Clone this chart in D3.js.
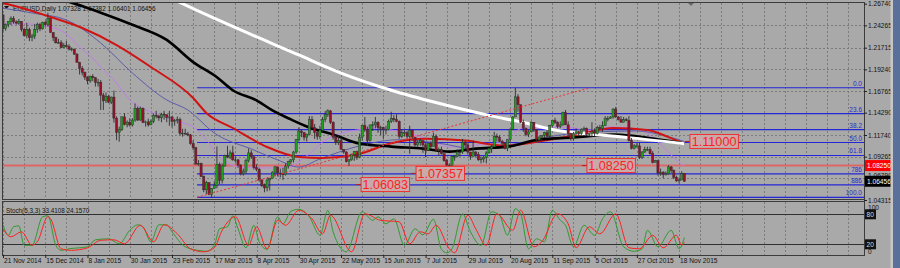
<!DOCTYPE html>
<html>
<head>
<meta charset="utf-8">
<script src="https://cdn.jsdelivr.net/npm/d3@7/dist/d3.min.js"></script>
<style>
  html, body { margin: 0; padding: 0; background: #a9a9a9; }
  svg { display: block; font-family: "Liberation Sans", Arial, sans-serif; }
</style>
</head>
<body>
<svg id="chart" width="900" height="268"></svg>
<script>
/*
	Data - EURUSD daily, 21 Nov 2014 .. 20 Nov 2015 (bar index 0..258)
	open of each bar = previous close
 */
var symbolTitle = "EURUSD,Daily 1.07328 1.07382 1.06401 1.06456";
var stochTitle = "Stoch(5,3,3) 33.4108 24.1570";
var firstOpen = 1.2546;

var closes = [
  1.2389,1.2437,1.2472,1.2504,1.2465,1.2452,
  1.2473,1.2382,1.2311,1.2378,1.2285,
  1.2306,1.2380,1.2440,1.2387,1.2461,
  1.2434,1.2506,1.2345,1.2285,1.2227,
  1.2228,1.2173,1.2195,1.2182,
  1.2155,1.2156,1.2098,1.2004,
  1.1934,1.1891,1.1836,1.1792,1.1843,
  1.1828,1.1775,1.1777,1.1630,1.1565,
  1.1613,1.1549,1.1607,1.1367,1.1203,
  1.1240,1.1381,1.1291,1.1320,1.1289,
  1.1345,1.1475,1.1345,1.1480,1.1316,
  1.1323,1.1290,1.1330,1.1400,1.1390,
  1.1370,1.1410,1.1405,1.1375,1.1380,
  1.1330,1.1340,1.1350,1.1195,1.1195,
  1.1185,1.1175,1.1075,1.1030,1.0841,
  1.0850,1.0699,1.0548,1.0630,1.0495,
  1.0565,1.0597,1.0840,1.0656,1.0820,
  1.0940,1.0921,1.0970,1.0890,1.0890,
  1.0830,1.0730,1.0762,1.0880,1.0970,
  1.0925,1.0800,1.0780,1.0660,1.0600,
  1.0570,1.0660,1.0680,1.0750,1.0810,
  1.0740,1.0730,1.0720,1.0820,1.0870,
  1.0890,1.0980,1.1120,1.1220,1.1200,
  1.1150,1.1180,1.1350,1.1260,1.1200,
  1.1160,1.1230,1.1350,1.1410,1.1450,
  1.1320,1.1150,1.1090,1.1110,1.1010,
  1.0980,1.0870,1.0890,1.0950,1.0985,
  1.0920,1.1150,1.1280,1.1240,1.1110,
  1.1290,1.1290,1.1320,1.1260,1.1260,
  1.1240,1.1240,1.1330,1.1360,1.1350,
  1.1330,1.1160,1.1200,1.1200,1.1160,
  1.1230,1.1150,1.1060,1.1090,1.1110,
  1.1060,1.1000,1.1080,1.1040,1.1160,
  1.1000,1.1010,1.0960,1.0880,1.0830,
  1.0830,1.0930,1.0930,1.0980,1.0980,
  1.1090,1.1060,1.0980,1.0930,1.0980,
  1.0950,1.0890,1.0900,1.0920,1.0970,
  1.1020,1.1040,1.1160,1.1150,1.1100,
  1.1080,1.1020,1.1120,1.1240,1.1380,
  1.1610,1.1520,1.1320,1.1250,1.1180,
  1.1210,1.1320,1.1230,1.1120,1.1150,
  1.1170,1.1200,1.1160,1.1280,1.1340,
  1.1320,1.1270,1.1290,1.1430,1.1290,
  1.1190,1.1130,1.1190,1.1210,1.1190,
  1.1240,1.1250,1.1180,1.1190,1.1210,
  1.1190,1.1260,1.1250,1.1280,1.1360,
  1.1360,1.1380,1.1470,1.1380,1.1350,
  1.1320,1.1350,1.1340,1.1110,1.1020,
  1.1050,1.1050,1.0920,1.0980,1.1010,
  1.1010,1.0960,1.0860,1.0880,1.0740,
  1.0750,1.0720,1.0730,1.0810,1.0770,
  1.0690,1.0650,1.0660,1.0733,1.06456
];

var highs = [
  1.2555,1.2447,1.2476,1.2530,1.2532,1.2486,
  1.2500,1.2475,1.2393,1.2456,1.2400,
  1.2330,1.2443,1.2457,1.2455,1.2469,
  1.2478,1.2570,1.2509,1.2345,1.2297,
  1.2273,1.2256,1.2223,1.2246,
  1.2210,1.2174,1.2160,1.2110,
  1.2010,1.1961,1.1899,1.1845,1.1852,
  1.1869,1.1835,1.1815,1.1803,1.1655,
  1.1660,1.1633,1.1613,1.1680,1.1386,
  1.1270,1.1387,1.1424,1.1340,1.1366,
  1.1366,1.1534,1.1499,1.1497,1.1488,
  1.1338,1.1360,1.1350,1.1420,1.1450,
  1.1405,1.1428,1.1450,1.1410,1.1450,
  1.1390,1.1360,1.1385,1.1373,1.1245,
  1.1245,1.1210,1.1186,1.1114,1.1037,
  1.0888,1.0858,1.0711,1.0650,1.0630,
  1.0570,1.0645,1.1043,1.0860,1.0850,
  1.0950,1.1050,1.1000,1.1050,1.0930,
  1.0900,1.0840,1.0790,1.0905,1.1020,
  1.1000,1.0930,1.0840,1.0800,1.0670,
  1.0620,1.0680,1.0685,1.0760,1.0820,
  1.0810,1.0790,1.0800,1.0850,1.0880,
  1.0900,1.0990,1.1130,1.1260,1.1240,
  1.1210,1.1190,1.1390,1.1390,1.1300,
  1.1210,1.1280,1.1380,1.1450,1.1467,
  1.1460,1.1330,1.1170,1.1170,1.1150,
  1.1010,1.0990,1.0900,1.0960,1.0990,
  1.0995,1.1190,1.1290,1.1380,1.1270,
  1.1290,1.1330,1.1380,1.1330,1.1280,
  1.1270,1.1280,1.1350,1.1440,1.1400,
  1.1410,1.1340,1.1240,1.1230,1.1220,
  1.1280,1.1230,1.1150,1.1110,1.1130,
  1.1110,1.1080,1.1080,1.1100,1.1200,
  1.1180,1.1030,1.1040,1.0960,1.0900,
  1.0850,1.0940,1.0940,1.1010,1.0990,
  1.1130,1.1110,1.1080,1.0980,1.1110,
  1.0990,1.0980,1.0930,1.0940,1.0990,
  1.1030,1.1060,1.1210,1.1190,1.1170,
  1.1120,1.1090,1.1120,1.1250,1.1390,
  1.1714,1.1640,1.1520,1.1350,1.1260,
  1.1230,1.1330,1.1320,1.1240,1.1160,
  1.1170,1.1210,1.1230,1.1290,1.1340,
  1.1370,1.1330,1.1330,1.1440,1.1460,
  1.1330,1.1200,1.1210,1.1250,1.1220,
  1.1250,1.1270,1.1260,1.1200,1.1320,
  1.1250,1.1280,1.1290,1.1330,1.1390,
  1.1390,1.1390,1.1480,1.1495,1.1390,
  1.1390,1.1380,1.1370,1.1390,1.1140,
  1.1070,1.1080,1.1090,1.0990,1.1040,
  1.1040,1.1040,1.0990,1.0890,1.0890,
  1.0790,1.0760,1.0760,1.0830,1.0820,
  1.0780,1.0710,1.0690,1.0760,1.07382
];

var lows = [
  1.2358,1.2366,1.2405,1.2430,1.2445,1.2435,
  1.2434,1.2357,1.2300,1.2280,1.2247,
  1.2245,1.2270,1.2341,1.2360,1.2378,
  1.2410,1.2414,1.2343,1.2247,1.2220,
  1.2220,1.2165,1.2169,1.2175,
  1.2141,1.2130,1.2089,1.2001,
  1.1865,1.1855,1.1803,1.1753,1.1770,
  1.1788,1.1728,1.1727,1.1460,1.1460,
  1.1540,1.1538,1.1528,1.1316,1.1114,
  1.1098,1.1220,1.1285,1.1262,1.1270,
  1.1270,1.1325,1.1335,1.1335,1.1310,
  1.1270,1.1270,1.1287,1.1310,1.1365,
  1.1336,1.1320,1.1350,1.1320,1.1280,
  1.1260,1.1280,1.1307,1.1170,1.1155,
  1.1175,1.1160,1.1063,1.1000,1.0838,
  1.0823,1.0698,1.0520,1.0500,1.0486,
  1.0460,1.0560,1.0565,1.0613,1.0620,
  1.0812,1.0910,1.0900,1.0880,1.0860,
  1.0800,1.0712,1.0710,1.0730,1.0860,
  1.0900,1.0780,1.0760,1.0640,1.0580,
  1.0520,1.0530,1.0540,1.0680,1.0700,
  1.0700,1.0690,1.0660,1.0710,1.0790,
  1.0840,1.0860,1.0960,1.1100,1.1150,
  1.1110,1.1100,1.1170,1.1240,1.1130,
  1.1120,1.1130,1.1210,1.1320,1.1380,
  1.1300,1.1120,1.1060,1.1060,1.1010,
  1.0960,1.0860,1.0820,1.0880,1.0880,
  1.0890,1.0910,1.1110,1.1210,1.1050,
  1.1100,1.1220,1.1250,1.1200,1.1170,
  1.1130,1.1180,1.1230,1.1310,1.1320,
  1.1320,1.1130,1.1140,1.1160,1.1130,
  1.0960,1.1130,1.1040,1.1040,1.1050,
  1.0970,1.0920,1.1000,1.1020,1.1050,
  1.0990,1.0940,1.0950,1.0870,1.0820,
  1.0808,1.0820,1.0880,1.0920,1.0930,
  1.0960,1.1010,1.0950,1.0890,1.0930,
  1.0920,1.0880,1.0850,1.0860,1.0850,
  1.0960,1.0970,1.1040,1.1100,1.1090,
  1.1040,1.1010,1.0990,1.1090,1.1230,
  1.1380,1.1440,1.1310,1.1210,1.1160,
  1.1150,1.1210,1.1210,1.1090,1.1090,
  1.1110,1.1140,1.1150,1.1150,1.1260,
  1.1300,1.1250,1.1250,1.1280,1.1290,
  1.1160,1.1110,1.1110,1.1180,1.1160,
  1.1170,1.1220,1.1160,1.1150,1.1150,
  1.1160,1.1180,1.1230,1.1210,1.1280,
  1.1330,1.1360,1.1360,1.1370,1.1340,
  1.1320,1.1320,1.1330,1.1100,1.1010,
  1.1010,1.1030,1.0900,1.0900,1.0970,
  1.0990,1.0950,1.0850,1.0860,1.0710,
  1.0710,1.0680,1.0710,1.0720,1.0740,
  1.0670,1.0640,1.0620,1.0660,1.06401
];

// moving averages: [bar, price]
var maWhite = [[60,1.2790],[68,1.2674],[112,1.2088],[128,1.1881],[147,1.1685],[165,1.1536],
  [184,1.1398],[197,1.1317],[210,1.1225],[220,1.1190],[237,1.1144],[258,1.1075]];
var maBlack = [[22,1.2720],[26,1.2686],[37,1.2571],[49,1.2433],[62,1.2260],[72,1.2007],[81,1.1834],
  [87,1.1685],[96,1.1570],[102,1.1455],[109,1.1352],[116,1.1260],[125,1.1179],[135,1.1076],
  [147,1.1041],[159,1.1018],[169,1.0984],[179,1.1018],[191,1.1041],[203,1.1122],[216,1.1145],
  [231,1.1179],[237,1.1168],[246,1.1133],[256,1.1087],[258,1.1075]];
var maRed = [[0,1.2680],[3,1.2659],[18,1.2522],[30,1.2396],[43,1.2202],[56,1.1951],[72,1.1597],
  [77,1.1426],[87,1.1254],[100,1.1037],[112,1.0923],[121,1.0911],[134,1.0950],[147,1.1080],
  [160,1.1130],[175,1.1110],[190,1.1050],[205,1.1110],[218,1.1180],[231,1.1254],[244,1.1231],
  [252,1.1150],[258,1.1075]];
var maBlue = [[0,1.2623],[11,1.2568],[24,1.2488],[37,1.2225],[49,1.1882],[62,1.1574],[70,1.1460],
  [80,1.1197],[95,1.1003],[104,1.0889],[112,1.0808],[120,1.0900],[135,1.1050],[150,1.1120],
  [165,1.1080],[180,1.1010],[195,1.1080],[210,1.1170],[225,1.1210],[240,1.1220],[250,1.1170],
  [258,1.1100]];
var maViolet = [[0,1.2440],[8,1.2445],[14,1.2430],[18,1.2408],[24,1.2330],[29,1.2179],[33,1.2080],
  [37,1.1951],[43,1.1768],[45,1.1688],[48,1.1574],[52,1.1494],[59,1.1403],[67,1.1323],[72,1.1266],
  [77,1.1117],[82,1.0923],[90,1.0808],[100,1.0797],[109,1.0808],[112,1.0866],[116,1.0960],
  [121,1.1094],[128,1.1190],[134,1.1231],[142,1.1254],[147,1.1231],[153,1.1197],[162,1.1117],
  [169,1.1037],[179,1.1060],[189,1.1094],[197,1.1254],[204,1.1254],[212,1.1266],[222,1.1231],
  [229,1.1266],[237,1.1254],[244,1.1197],[250,1.1037],[255,1.0888],[258,1.0820]];

// stochastic %K (green) and %D (red): [bar, value]
var stochK = [[0,59],[2,38],[4,55],[6,57],[8,18],[11,18],[15,75],[17,77],[20,18],[22,8],[25,11],
  [32,15],[35,29],[40,31],[44,21],[48,48],[51,59],[53,55],[56,25],[59,59],[62,59],[64,45],[69,15],
  [75,7],[77,6],[80,18],[82,51],[85,55],[87,77],[89,51],[92,13],[95,58],[97,25],[100,10],[104,75],
  [106,61],[109,86],[112,90],[116,75],[120,38],[123,88],[125,45],[130,5],[136,85],[140,68],[142,75],
  [145,61],[148,71],[152,18],[156,51],[159,39],[163,70],[166,10],[168,3],[170,11],[174,81],[177,45],
  [181,18],[185,85],[188,78],[191,38],[194,91],[196,81],[199,11],[202,31],[205,25],[208,88],[211,68],
  [213,58],[216,15],[220,58],[224,38],[227,71],[230,85],[235,15],[239,6],[242,11],[244,48],[248,15],
  [253,48],[256,11],[258,33.4]];
var stochD = [[0,51],[3,35],[7,45],[11,18],[13,25],[17,75],[18,71],[22,11],[26,8],[32,13],[37,28],
  [42,29],[46,21],[52,58],[57,25],[61,59],[66,41],[71,11],[76,5],[80,13],[83,48],[88,75],[93,18],
  [96,55],[100,11],[104,68],[107,58],[112,88],[117,71],[121,41],[124,78],[132,5],[137,81],[143,68],
  [150,65],[154,21],[158,45],[161,41],[164,58],[169,11],[171,3],[176,78],[179,51],[183,18],[187,81],
  [193,48],[196,88],[201,15],[204,25],[210,81],[214,61],[217,13],[222,55],[226,41],[232,81],[237,13],
  [241,11],[246,38],[250,13],[255,38],[257,18],[258,24.2]];

// axes
var priceTicks = [1.26740,1.24265,1.21715,1.19240,1.16765,1.14290,1.11740,1.09265,1.06790,1.04315];
var dateTickBars = [0,16,32,48,64,80,96,112,128,144,160,176,192,208,224,240,256];
var dateLabels = ["21 Nov 2014","15 Dec 2014","8 Jan 2015","30 Jan 2015","23 Feb 2015","17 Mar 2015",
  "8 Apr 2015","30 Apr 2015","22 May 2015","15 Jun 2015","7 Jul 2015","29 Jul 2015","20 Aug 2015",
  "11 Sep 2015","5 Oct 2015","27 Oct 2015","18 Nov 2015"];

// objects
var fibHigh = 1.1714, fibLow = 1.0462, fibStartBar = 73.5;
var fibLevels = [0, 23.6, 38.2, 50, 61.8, 78.6, 88.6, 100];
var fibNames = ["0.0","23.6","38.2","50.0","61.8","786","886","100.0"];
var trendBars = [73.5, 222.3], trendPrices = [1.0462, 1.1714];
var hLinePrice = 1.0825;
var labelPrices = [1.06083, 1.07357, 1.08250, 1.11000];
var labelBars = [133.7, 154.5, 219.2, 258.2];
var lastPrice = 1.06456;

/*
	Layout
 */
var svg = d3.select('#chart');
var main = {left: 3, right: 864, top: 3, bottom: 199};
var sub = {top: 202, bottom: 255};

var x = d3.scaleLinear().domain([0, 258]).range([3, 3 + 258 * 2.641]);
var y = d3.scaleLinear().domain([1.04315, 1.26740]).range([200.0, 3.7]);
var ys = d3.scaleLinear().domain([0, 100]).range([254.3, 204.3]);

var gridColor = '#7c7c7c', frameColor = '#3c3c3c';

svg.append('rect').attr('width', 900).attr('height', 268).attr('fill', '#a9a9a9');

var defs = svg.append('defs');
defs.append('clipPath').attr('id', 'clipMain').append('rect')
  .attr('x', main.left).attr('y', main.top).attr('width', main.right - main.left).attr('height', main.bottom - main.top);
defs.append('clipPath').attr('id', 'clipSub').append('rect')
  .attr('x', main.left).attr('y', sub.top).attr('width', main.right - main.left).attr('height', sub.bottom - sub.top);

// grid
var gridBars = d3.range(0, 330, 8).filter(function(b){ return x(b) < main.right; });
var grid = svg.append('g').attr('stroke', gridColor).attr('stroke-dasharray', '2,2').attr('stroke-width', 1);
grid.selectAll('.gv').data(gridBars).enter().append('line')
  .attr('x1', function(d){ return Math.round(x(d)) + 0.5; }).attr('x2', function(d){ return Math.round(x(d)) + 0.5; })
  .attr('y1', main.top).attr('y2', main.bottom);
grid.selectAll('.gs').data(gridBars).enter().append('line')
  .attr('x1', function(d){ return Math.round(x(d)) + 0.5; }).attr('x2', function(d){ return Math.round(x(d)) + 0.5; })
  .attr('y1', sub.top).attr('y2', sub.bottom);
grid.selectAll('.gh').data(priceTicks.slice(1, -1)).enter().append('line')
  .attr('x1', main.left).attr('x2', main.right)
  .attr('y1', function(d){ return Math.round(y(d)) + 0.5; }).attr('y2', function(d){ return Math.round(y(d)) + 0.5; });

// title
svg.append('path').attr('d', 'M4,6 L9,6 L6.5,9 Z').attr('fill', '#111');
svg.append('text').attr('x', 13).attr('y', 10.5).attr('font-size', 6.4).attr('fill', '#111').text(symbolTitle);

var gMain = svg.append('g').attr('clip-path', 'url(#clipMain)');

// fibonacci levels
var fibPrice = function(l){ return fibHigh - (fibHigh - fibLow) * l / 100; };
gMain.selectAll('.fib').data(fibLevels).enter().append('line')
  .attr('x1', x(fibStartBar)).attr('x2', main.right)
  .attr('y1', function(d){ return y(fibPrice(d)); }).attr('y2', function(d){ return y(fibPrice(d)); })
  .attr('stroke', '#2626d8').attr('stroke-width', 1.1);
gMain.selectAll('.fibt').data(fibLevels).enter().append('text')
  .attr('x', main.right - 2).attr('y', function(d){ return y(fibPrice(d)) - 2; })
  .attr('text-anchor', 'end').attr('font-size', 6.5).attr('fill', '#2a2ad0')
  .text(function(d, i){ return fibNames[i]; });

// horizontal line
gMain.append('line').attr('x1', main.left).attr('x2', main.right)
  .attr('y1', y(hLinePrice)).attr('y2', y(hLinePrice))
  .attr('stroke', '#e06666').attr('stroke-width', 2);

// moving averages
var maLine = d3.line().x(function(d){ return x(d[0]); }).y(function(d){ return y(d[1]); }).curve(d3.curveMonotoneX);
[[maViolet, '#c27ee8', 1], [maBlue, '#5c5ca8', 1], [maRed, '#d01414', 2], [maBlack, '#000000', 2.6], [maWhite, '#ffffff', 3]]
  .forEach(function(m){
    gMain.append('path').attr('d', maLine(m[0])).attr('fill', 'none')
      .attr('stroke', m[1]).attr('stroke-width', m[2]).attr('stroke-linejoin', 'round');
  });

// candles
var bars = closes.map(function(c, i){
  return {i: i, o: i === 0 ? firstOpen : closes[i - 1], h: highs[i], l: lows[i], c: c};
});
var candle = gMain.selectAll('.candle').data(bars).enter().append('g');
candle.append('line')
  .attr('x1', function(d){ return x(d.i); }).attr('x2', function(d){ return x(d.i); })
  .attr('y1', function(d){ return y(d.h); }).attr('y2', function(d){ return y(d.l); })
  .attr('stroke', '#2e2e2e').attr('stroke-width', 0.9);
candle.append('rect')
  .attr('x', function(d){ return x(d.i) - 1.1; }).attr('width', 2.2)
  .attr('y', function(d){ return y(Math.max(d.o, d.c)); })
  .attr('height', function(d){ return Math.max(0.8, Math.abs(y(d.o) - y(d.c))); })
  .attr('fill', function(d){ return d.c >= d.o ? '#20a020' : '#9a1028'; })
  .attr('stroke', '#2e2e2e').attr('stroke-width', 0.45);

// trend line
gMain.append('line').attr('x1', x(trendBars[0])).attr('y1', y(trendPrices[0]))
  .attr('x2', x(trendBars[1])).attr('y2', y(trendPrices[1]))
  .attr('stroke', '#ee3030').attr('stroke-width', 1).attr('stroke-dasharray', '2,2');

// price labels
var lab = gMain.selectAll('.plab').data(labelPrices).enter().append('g');
lab.append('line')
  .attr('x1', function(d, i){ return x(labelBars[i]); }).attr('x2', function(d, i){ return x(labelBars[i]) + 5; })
  .attr('y1', function(d){ return y(d); }).attr('y2', function(d){ return y(d); })
  .attr('stroke', '#b02020').attr('stroke-width', 1);
lab.append('rect')
  .attr('x', function(d, i){ return x(labelBars[i]) + 5; }).attr('y', function(d){ return y(d) - 7; })
  .attr('width', 48.5).attr('height', 14)
  .attr('fill', '#c9a9a9').attr('stroke', '#f03030').attr('stroke-width', 1);
lab.append('text')
  .attr('x', function(d, i){ return x(labelBars[i]) + 29.2; }).attr('y', function(d){ return y(d) + 4.6; })
  .attr('text-anchor', 'middle').attr('font-size', 12.6).attr('fill', '#ff1e1e')
  .text(function(d){ return d.toFixed(5); });

// stochastic
var gSub = svg.append('g').attr('clip-path', 'url(#clipSub)');
gSub.selectAll('.lvl').data([80, 20]).enter().append('line')
  .attr('x1', main.left).attr('x2', main.right)
  .attr('y1', function(d){ return Math.round(ys(d)) + 0.5; }).attr('y2', function(d){ return Math.round(ys(d)) + 0.5; })
  .attr('stroke', '#303030').attr('stroke-width', 1);
var stLine = d3.line().x(function(d){ return x(d[0]); }).y(function(d){ return ys(d[1]); }).curve(d3.curveMonotoneX);
gSub.append('path').attr('d', stLine(stochK)).attr('fill', 'none').attr('stroke', '#2f9a2f').attr('stroke-width', 1);
gSub.append('path').attr('d', stLine(stochD)).attr('fill', 'none').attr('stroke', '#ff2020').attr('stroke-width', 1);
svg.append('text').attr('x', 6).attr('y', 212.5).attr('font-size', 6.3).attr('fill', '#111').text(stochTitle);

// frames
svg.append('rect').attr('x', main.left - 0.5).attr('y', main.top - 0.5)
  .attr('width', main.right - main.left + 1).attr('height', main.bottom - main.top + 1)
  .attr('fill', 'none').attr('stroke', frameColor);
svg.append('rect').attr('x', main.left - 0.5).attr('y', sub.top - 0.5)
  .attr('width', main.right - main.left + 1).attr('height', sub.bottom - sub.top + 1)
  .attr('fill', 'none').attr('stroke', frameColor);
svg.append('path').attr('d', 'M688,3 L694,3 L691,6 Z').attr('fill', '#6a6a6a');

// price axis (the 1.06790 label sits under the last-price box, as in MT4)
var yAxis = d3.axisRight(y).tickValues(priceTicks).tickSize(3).tickPadding(1).tickFormat(d3.format('.5f'));
var gy = svg.append('g').attr('transform', 'translate(' + main.right + ',0)').call(yAxis);
gy.select('.domain').remove();
gy.selectAll('line').attr('stroke', '#222');
gy.selectAll('text').attr('font-size', 6.6).attr('fill', '#111').attr('font-family', '"Liberation Sans", Arial, sans-serif')
  .attr('dy', function(d){ return d === 1.06790 ? '-0.2em' : '0.32em'; });

function axisBox(v, scale, bg, txt){
  var g = svg.append('g');
  g.append('rect').attr('x', main.right + 1).attr('y', scale(v) - 5.5).attr('width', 28.5).attr('height', 11).attr('fill', bg);
  g.append('text').attr('x', main.right + 3).attr('y', scale(v) + 2.5).attr('font-size', 6.6).attr('fill', '#fff').text(txt);
}
axisBox(hLinePrice, y, '#ff0000', hLinePrice.toFixed(5));
axisBox(lastPrice, y, '#000000', lastPrice.toFixed(5));

// stochastic axis
var sAxis = d3.axisRight(ys).tickValues([100, 0]).tickSize(0).tickPadding(4).tickFormat(d3.format('d'));
var gs = svg.append('g').attr('transform', 'translate(' + main.right + ',0)').call(sAxis);
gs.select('.domain').remove();
gs.selectAll('text').attr('font-size', 6.6).attr('fill', '#111').attr('font-family', '"Liberation Sans", Arial, sans-serif')
  .attr('dy', function(d){ return d === 100 ? '0.75em' : '-0.1em'; });
[80, 20].forEach(function(v){
  svg.append('rect').attr('x', main.right + 1).attr('y', ys(v) - 5).attr('width', 11).attr('height', 10).attr('fill', '#111');
  svg.append('text').attr('x', main.right + 2.5).attr('y', ys(v) + 2.5).attr('font-size', 6.6).attr('fill', '#ddd').text(v);
});

// date axis
var xAxis = d3.axisBottom(x).tickValues(dateTickBars).tickSize(3).tickPadding(0)
  .tickFormat(function(d, i){ return dateLabels[i]; });
var gx = svg.append('g').attr('transform', 'translate(0,' + sub.bottom + ')').call(xAxis);
gx.select('.domain').remove();
gx.selectAll('line').attr('stroke', '#222');
gx.selectAll('text').attr('font-size', 6.6).attr('fill', '#111').attr('text-anchor', 'start')
  .attr('font-family', '"Liberation Sans", Arial, sans-serif').attr('x', 0.5);

// window edge
svg.append('rect').attr('x', 890.5).attr('y', 0).attr('width', 2.5).attr('height', 268).attr('fill', '#c6c6c6');
svg.append('rect').attr('x', 893).attr('y', 0).attr('width', 7).attr('height', 268).attr('fill', '#58709a');
</script>
</body>
</html>
